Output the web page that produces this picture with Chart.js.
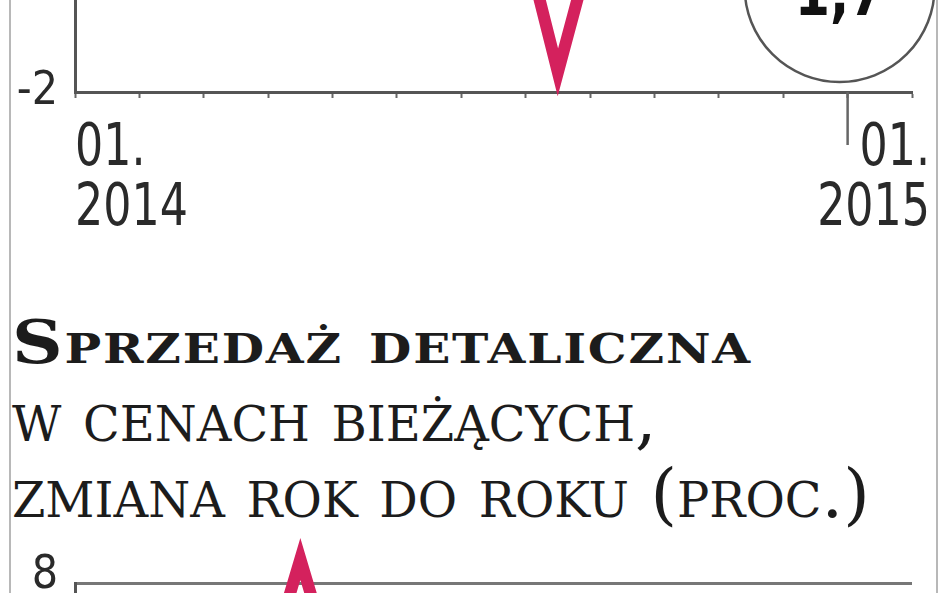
<!DOCTYPE html>
<html lang="pl">
<head>
<meta charset="utf-8">
<script src="https://cdn.jsdelivr.net/npm/chart.js@4.4.1/dist/chart.umd.min.js"></script>
<style>
  body { margin: 0; width: 948px; height: 593px; overflow: hidden; position: relative; background: #fff; }
  .frame { position: absolute; top: 0; width: 2px; height: 593px; background: #b8b8b8; }
  .box { position: absolute; left: 0; }
  .title { position: absolute; left: 12px; color: #1c1c1c; font-family: 'DejaVu Serif', serif; font-variant: small-caps; white-space: nowrap; transform-origin: 0 0; }
</style>
</head>
<body>
<div class="frame" style="left:9px"></div>
<div class="frame" style="left:936px"></div>

<div class="box" style="top:-740px"><canvas id="top" width="948" height="980"></canvas></div>

<div class="title" style="top:313px;font-size:59px;line-height:59px;font-weight:bold;letter-spacing:1.5px;transform:scaleX(1.19)">Sprzedaż detaliczna</div>
<div class="title" style="top:380px;font-size:68px;line-height:76px">w cenach bieżących,<br>zmiana rok do roku (proc.)</div>

<div class="box" style="top:520px"><canvas id="bottom" width="948" height="1011"></canvas></div>

<script>
const months = ['01.2014', '02.2014', '03.2014', '04.2014', '05.2014', '06.2014', '07.2014',
                '08.2014', '09.2014', '10.2014', '11.2014', '12.2014', '01.2015'];
// gorny wykres - widac tylko dolek w sierpniu i dymek z ostatnia wartoscia
const topValues = [4.6, 5.3, 5.4, 5.4, 4.4, 1.7, 1.5, -1.75, 1.3, 1.7, 0.3, 7.9, 1.7];
// sprzedaz detaliczna - widac tylko szczyt w kwietniu
const salesValues = [5.4, 5.5, 5.6, 8.3, 5.6, 2.9, 2.6, 1.6, 1.9, 2.3, 0.9, 2.5, 3.2];
const xTickLabels = [['01.', '2014'], ['01.', '2015']];
const yMin = -2;
const yMax = 8;
const yStep = 2;

const LINE = '#d4215d';
const AXIS = '#555';
const NUM_FONT = "'DejaVu Sans Condensed', 'DejaVu Sans', sans-serif";

function stepOf(x) {
    return x.getPixelForValue(1) - x.getPixelForValue(0);
}

// tekst zwezony w poziomie, jak w oryginale
function narrowText(ctx, text, x, y, sx) {
    ctx.save();
    ctx.translate(x, y);
    ctx.scale(sx, 1);
    ctx.fillText(text, 0, 0);
    ctx.restore();
}

const yearLabels = {
    id: 'yearLabels',
    afterDraw(chart) {
        const { ctx, chartArea, scales: { x } } = chart;
        const half = stepOf(x) / 2;
        const first = x.getPixelForValue(0) - half;
        const lastTick = x.getPixelForValue(months.length - 1) - half;
        ctx.save();
        // dluga kreska na poczatku roku
        ctx.strokeStyle = '#666';
        ctx.lineWidth = 2.5;
        ctx.beginPath();
        ctx.moveTo(lastTick, chartArea.bottom);
        ctx.lineTo(lastTick, chartArea.bottom + 53);
        ctx.stroke();
        ctx.fillStyle = '#2a2a2a';
        ctx.font = '58px ' + NUM_FONT;
        ctx.textBaseline = 'alphabetic';
        ctx.textAlign = 'left';
        xTickLabels[0].forEach((t, i) => narrowText(ctx, t, first, chartArea.bottom + 73 + i * 60, 0.85));
        ctx.textAlign = 'right';
        xTickLabels[1].forEach((t, i) => narrowText(ctx, t, chartArea.right + 18, chartArea.bottom + 73 + i * 60, 0.85));
        ctx.restore();
    }
};

const callout = {
    id: 'callout',
    afterDraw(chart) {
        const { ctx, chartArea, scales: { x } } = chart;
        const cx = x.getPixelForValue(months.length - 1) - stepOf(x) / 2 - 8;
        const cy = chartArea.bottom - 105;
        ctx.save();
        ctx.strokeStyle = AXIS;
        ctx.lineWidth = 2.5;
        ctx.beginPath();
        ctx.arc(cx, cy, 95, 0, Math.PI * 2);
        ctx.stroke();
        ctx.fillStyle = '#111';
        ctx.font = 'bold 64px ' + NUM_FONT;
        ctx.textAlign = 'center';
        ctx.textBaseline = 'alphabetic';
        const last = topValues[topValues.length - 1];
        narrowText(ctx, String(last).replace('.', ','), cx, cy + 28, 0.88);
        ctx.restore();
    }
};

function makeOptions(padTop, labelOffset) {
    return {
        responsive: false,
        animation: false,
        layout: { padding: { top: padTop, right: 36, left: 0, bottom: 0 } },
        plugins: { legend: { display: false }, tooltip: { enabled: false } },
        scales: {
            x: {
                offset: true,
                grid: { offset: true, drawOnChartArea: false, tickLength: 6, tickWidth: 2, tickColor: '#666' },
                border: { color: AXIS, width: 3 },
                ticks: { display: false, autoSkip: false },
                afterFit: s => { s.height = 148; }
            },
            y: {
                min: yMin,
                max: yMax,
                grid: { color: '#777', lineWidth: 3, drawTicks: false },
                border: { color: AXIS, width: 3 },
                ticks: {
                    stepSize: yStep,
                    padding: 17,
                    labelOffset: labelOffset,
                    color: '#2a2a2a',
                    font: { family: NUM_FONT, size: 46 }
                },
                afterFit: s => { s.width = 75; }
            }
        }
    };
}

function dataset(values) {
    return {
        data: values,
        borderColor: LINE,
        borderWidth: 12,
        borderJoinStyle: 'miter',
        pointRadius: 0,
        tension: 0,
        clip: false
    };
}

new Chart(document.getElementById('top'), {
    type: 'line',
    data: { labels: months, datasets: [dataset(topValues)] },
    options: makeOptions(32, 0),
    plugins: [yearLabels, callout]
});

new Chart(document.getElementById('bottom'), {
    type: 'line',
    data: { labels: months, datasets: [dataset(salesValues)] },
    options: makeOptions(63, -7)
});
</script>
</body>
</html>
